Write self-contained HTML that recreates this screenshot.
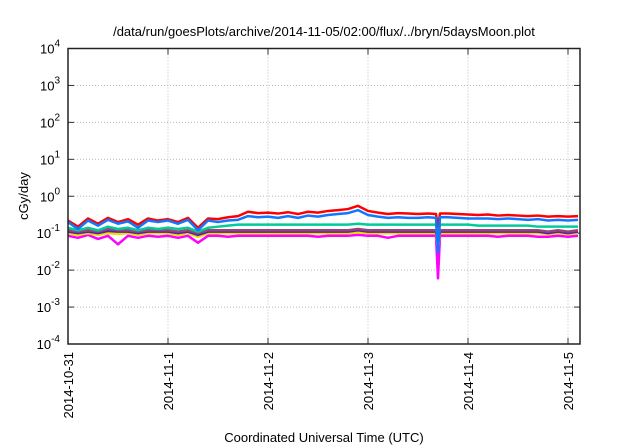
<!DOCTYPE html>
<html><head><meta charset="utf-8"><style>
body{margin:0;background:#fff}
svg{display:block;font-family:"Liberation Sans",sans-serif}
</style></head><body>
<svg id="c" width="640" height="448"></svg>
<script>
const dayLabels=["2014-10-31","2014-11-1","2014-11-2","2014-11-3","2014-11-4","2014-11-5"];
const yExps=[-4,-3,-2,-1,0,1,2,3,4];
const times=[0,0.1,0.2,0.3,0.4,0.5,0.6,0.7,0.8,0.9,1,1.1,1.2,1.3,1.4,1.5,1.6,1.7,1.8,1.9,2,2.1,2.2,2.3,2.4,2.5,2.6,2.7,2.8,2.9,3,3.1,3.2,3.3,3.4,3.5,3.6,3.68,3.7,3.72,3.8,3.9,4,4.1,4.2,4.3,4.4,4.5,4.6,4.7,4.8,4.9,5,5.1];
const red=[0.22,0.15,0.25,0.18,0.26,0.2,0.24,0.17,0.25,0.22,0.24,0.2,0.26,0.14,0.25,0.24,0.27,0.29,0.38,0.35,0.36,0.34,0.37,0.33,0.38,0.36,0.4,0.42,0.45,0.55,0.4,0.36,0.33,0.35,0.34,0.33,0.34,0.33,0.15,0.34,0.34,0.33,0.32,0.31,0.32,0.3,0.31,0.3,0.29,0.3,0.28,0.29,0.28,0.29];
const blue=[0.2,0.13,0.22,0.16,0.23,0.18,0.21,0.14,0.22,0.2,0.22,0.18,0.23,0.12,0.22,0.2,0.22,0.23,0.29,0.27,0.28,0.26,0.29,0.26,0.3,0.28,0.31,0.33,0.35,0.42,0.31,0.28,0.26,0.27,0.26,0.26,0.27,0.26,0.03,0.27,0.27,0.26,0.25,0.25,0.25,0.24,0.25,0.24,0.23,0.24,0.22,0.23,0.22,0.23];
const teal=[0.14,0.12,0.14,0.12,0.15,0.13,0.14,0.12,0.14,0.13,0.14,0.13,0.14,0.11,0.14,0.15,0.16,0.17,0.17,0.17,0.17,0.17,0.17,0.17,0.17,0.17,0.17,0.17,0.17,0.18,0.17,0.17,0.17,0.17,0.17,0.17,0.17,0.17,0.07,0.17,0.17,0.17,0.17,0.16,0.16,0.16,0.16,0.16,0.16,0.15,0.15,0.15,0.15,0.15];
const brown=[0.12,0.11,0.12,0.11,0.13,0.12,0.12,0.11,0.12,0.12,0.12,0.11,0.12,0.1,0.12,0.12,0.12,0.12,0.12,0.12,0.12,0.12,0.12,0.12,0.12,0.12,0.12,0.12,0.12,0.13,0.12,0.12,0.12,0.12,0.12,0.12,0.12,0.12,0.06,0.12,0.12,0.12,0.12,0.12,0.12,0.12,0.12,0.12,0.12,0.12,0.11,0.12,0.11,0.12];
const purple=[0.11,0.1,0.11,0.1,0.115,0.11,0.11,0.1,0.11,0.11,0.11,0.1,0.11,0.09,0.11,0.11,0.11,0.11,0.11,0.11,0.11,0.11,0.11,0.11,0.11,0.11,0.11,0.11,0.11,0.12,0.11,0.11,0.11,0.11,0.11,0.11,0.11,0.11,0.05,0.11,0.11,0.11,0.11,0.11,0.11,0.11,0.11,0.11,0.11,0.11,0.1,0.11,0.1,0.11];
const yellow=[0.1,0.09,0.1,0.09,0.1,0.095,0.1,0.09,0.1,0.1,0.1,0.09,0.1,0.08,0.1,0.1,0.1,0.1,0.1,0.1,0.1,0.1,0.1,0.1,0.1,0.1,0.1,0.1,0.1,0.105,0.1,0.1,0.1,0.1,0.1,0.1,0.1,0.1,0.04,0.1,0.1,0.1,0.1,0.1,0.1,0.1,0.1,0.1,0.1,0.1,0.095,0.1,0.095,0.1];
const magenta=[0.085,0.075,0.09,0.07,0.085,0.05,0.085,0.075,0.085,0.08,0.085,0.075,0.085,0.055,0.085,0.085,0.08,0.085,0.085,0.085,0.085,0.085,0.085,0.085,0.085,0.08,0.085,0.085,0.085,0.09,0.085,0.085,0.075,0.085,0.085,0.085,0.085,0.085,0.006,0.085,0.085,0.085,0.085,0.085,0.085,0.08,0.085,0.085,0.085,0.08,0.08,0.085,0.08,0.085];
const L=68,R=580,T=48.5,B=344,X0=0,X1=5.12;
const sx=t=>L+(t-X0)/(X1-X0)*(R-L);
const sy=v=>B-(Math.log10(v)+4)/8*(B-T);
const svg=document.getElementById('c');const NS="http://www.w3.org/2000/svg";
function mk(tag,attrs,parent){const e=document.createElementNS(NS,tag);for(const k in attrs)e.setAttribute(k,attrs[k]);(parent||svg).appendChild(e);return e;}
yExps.forEach(p=>{const y=sy(Math.pow(10,p));
 if(p>-4&&p<4){const g=mk('line',{x1:L,x2:R,y1:y,y2:y,stroke:'#bbb','stroke-dasharray':'1,2','stroke-width':1});
 
 }
 mk('line',{x1:L,x2:L+6,y1:y,y2:y,stroke:'#333'});mk('line',{x1:R,x2:R-6,y1:y,y2:y,stroke:'#333'});
 const t=mk('text',{x:L-8,y:y+5,'text-anchor':'end','font-size':13,fill:'#000'});
 
 
 t.textContent='10';const s=mk('tspan',{dy:-7,'font-size':10},t);s.textContent=String(p);
});
dayLabels.forEach((d,i)=>{const x=sx(i);
 if(i>0){const g=mk('line',{x1:x,x2:x,y1:T,y2:B,stroke:'#bbb','stroke-dasharray':'1,2'});
 
 }
 mk('line',{x1:x,x2:x,y1:B,y2:B-6,stroke:'#333'});mk('line',{x1:x,x2:x,y1:T,y2:T+6,stroke:'#333'});
 const t=mk('text',{x:0,y:0,'text-anchor':'end','font-size':13,fill:'#000',transform:`translate(${x+5},${B+8}) rotate(-90)`});
 
 
 t.textContent=d;
});
const series=[[magenta,'#ff00ff','magenta'],[yellow,'#eedd00','yellow'],[purple,'#5522aa','purple'],[brown,'#994477','brown'],[teal,'#00cc99','teal'],[red,'#ff0000','red'],[blue,'#1177ff','blue']];
series.forEach(([arr,col,n])=>{const p=mk('polyline',{points:arr.map((v,i)=>sx(times[i])+','+sy(v)).join(' '),fill:'none',stroke:col,'stroke-width':2.5,'stroke-linejoin':'round'});
 
 });
const fr=mk('rect',{x:L,y:T,width:R-L,height:B-T,fill:'none',stroke:'#222','stroke-width':1.5});


const ti=mk('text',{x:324,y:36,'text-anchor':'middle','font-size':13,fill:'#000'});


ti.textContent='/data/run/goesPlots/archive/2014-11-05/02:00/flux/../bryn/5daysMoon.plot';
const yt=mk('text',{x:0,y:0,'text-anchor':'middle','font-size':13,fill:'#000',transform:'translate(28,196) rotate(-90)'});


yt.textContent='cGy/day';
const xt=mk('text',{x:324,y:442,'text-anchor':'middle','font-size':13,fill:'#000'});


xt.textContent='Coordinated Universal Time (UTC)';
</script>
</body></html>
